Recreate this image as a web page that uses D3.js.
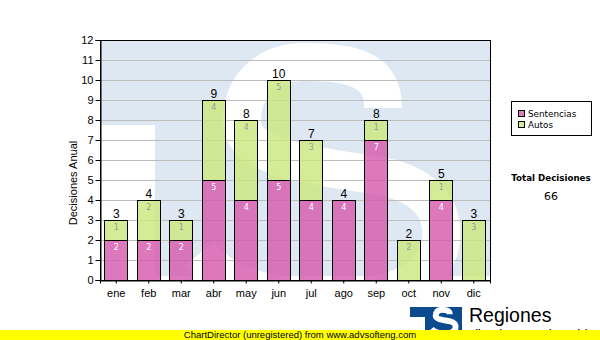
<!DOCTYPE html>
<html><head><meta charset="utf-8">
<script src="https://cdn.jsdelivr.net/npm/d3@7/dist/d3.min.js"></script>
<style>body{margin:0;background:#fff}svg{display:block}</style>
</head><body>
<script>
// Decisiones por mes, apiladas por tipo
const months = ["ene","feb","mar","abr","may","jun","jul","ago","sep","oct","nov","dic"];
const sentencias = [2,2,2,5,4,5,4,4,7,0,4,0];
const autos = [1,2,1,4,4,5,3,0,1,2,1,3];
const seriesNames = ["Sentencias","Autos"];
const yTicks = [0,1,2,3,4,5,6,7,8,9,10,11,12];
const yTitle = "Decisiones Anual";
const totalTitle = "Total Decisiones";
const brandName = "Regiones";
const brandSub = "Tribunal Supremo de Justicia";
const footerText = "ChartDirector (unregistered) from www.advsofteng.com";

const W = 600, H = 340;
const plot = {x0: 100, x1: 490, y0: 40, y1: 280};
const colors = {Sentencias: "#d656ab", Autos: "#cbe77c"};
const segLabelColor = {Sentencias: "#ffffff", Autos: "#9a9a9a"};
const SANS = "'Liberation Sans', Arial, sans-serif";
const VERD = "'DejaVu Sans', Verdana, sans-serif";

const rows = months.map((m, i) => ({mes: m, Sentencias: sentencias[i], Autos: autos[i]}));
const stacked = d3.stack().keys(seriesNames)(rows);
const totals = rows.map(r => r.Sentencias + r.Autos);

const svg = d3.select("body").append("svg").attr("width", W).attr("height", H);

const x = d3.scaleBand().domain(months).range([plot.x0, plot.x1])
  .paddingInner(0.26).paddingOuter(0.13);
const y = d3.scaleLinear().domain([0, 12]).range([plot.y1, plot.y0]);

// S emblem outline (centre line of a thick stroke), drawn in plot space
const sPath = "M383,108 C383,68 350,62 305,62 C262,62 240,92 242,124 C245,160 320,166 380,176 C432,186 446,215 440,246 C432,286 380,299 330,299 C270,299 224,285 199,254";

// background emblem
const defs = svg.append("defs");
defs.append("clipPath").attr("id", "plotClip").append("rect")
  .attr("x", plot.x0).attr("y", plot.y0)
  .attr("width", plot.x1 - plot.x0).attr("height", plot.y1 - plot.y0);
const wm = svg.append("g").attr("clip-path", "url(#plotClip)");
wm.append("rect").attr("x", plot.x0).attr("y", plot.y0)
  .attr("width", plot.x1 - plot.x0).attr("height", plot.y1 - plot.y0).attr("fill", "#dde8f2");
wm.append("rect").attr("x", plot.x0).attr("y", 125)
  .attr("width", 55).attr("height", plot.y1 - 125).attr("fill", "#fff");
wm.append("rect").attr("x", plot.x0).attr("y", plot.y1 - 4)
  .attr("width", plot.x1 - plot.x0).attr("height", 4).attr("fill", "#fff");
wm.append("path").attr("d", sPath).attr("fill", "none")
  .attr("stroke", "#fff").attr("stroke-width", 38).attr("stroke-linecap", "butt");

// gridlines
svg.append("g").selectAll("line").data(yTicks.filter(t => t > 0 && t < 12)).join("line")
  .attr("x1", plot.x0).attr("x2", plot.x1)
  .attr("y1", d => y(d) + 0.5).attr("y2", d => y(d) + 0.5)
  .attr("stroke", "#bdbdbd").attr("stroke-width", 1);

// bars
const barG = svg.append("g");
stacked.forEach(layer => {
  const key = layer.key;
  barG.append("g").selectAll("rect").data(layer.filter(d => d[1] > d[0])).join("rect")
    .attr("x", d => Math.round(x(d.data.mes)) + 0.5)
    .attr("y", d => y(d[1]) + 0.5)
    .attr("width", Math.round(x.bandwidth()) - 1)
    .attr("height", d => y(d[0]) - y(d[1]))
    .attr("fill", colors[key]).attr("fill-opacity", 0.8)
    .attr("stroke", "#000").attr("stroke-width", 1);
});
// segment value labels
stacked.forEach(layer => {
  const key = layer.key;
  barG.append("g").selectAll("text").data(layer.filter(d => d[1] > d[0])).join("text")
    .attr("x", d => x(d.data.mes) + x.bandwidth() / 2)
    .attr("y", d => y(d[1]) + 10)
    .attr("text-anchor", "middle")
    .attr("font-family", VERD).attr("font-size", 8)
    .attr("fill", segLabelColor[key])
    .text(d => d[1] - d[0]);
});
// totals above bars
barG.append("g").selectAll("text").data(rows).join("text")
  .attr("x", d => x(d.mes) + x.bandwidth() / 2)
  .attr("y", (d, i) => y(totals[i]) - 2)
  .attr("text-anchor", "middle")
  .attr("font-family", SANS).attr("font-size", 12).attr("fill", "#000")
  .text((d, i) => totals[i]);

// frame
svg.append("rect").attr("x", plot.x0 + 0.5).attr("y", plot.y0 + 0.5)
  .attr("width", plot.x1 - plot.x0).attr("height", plot.y1 - plot.y0)
  .attr("fill", "none").attr("stroke", "#000").attr("stroke-width", 1);

// axes
const yAxis = svg.append("g").attr("transform", `translate(${plot.x0 + 0.5},0)`)
  .call(d3.axisLeft(y).tickValues(yTicks).tickSize(5).tickPadding(2).tickFormat(d3.format("d")));
const xAxis = svg.append("g").attr("transform", `translate(0,${plot.y1 + 0.5})`)
  .call(d3.axisBottom(x).tickSize(3).tickPadding(4));
[yAxis, xAxis].forEach(a => {
  a.select(".domain").attr("stroke", "#000");
  a.selectAll(".tick line").attr("stroke", "#000");
  a.selectAll("text").attr("font-family", SANS).attr("font-size", 11).attr("fill", "#000");
});
xAxis.selectAll("text").attr("dy", "0.85em");

svg.append("text")
  .attr("transform", "translate(77,183) rotate(-90)")
  .attr("text-anchor", "middle")
  .attr("font-family", SANS).attr("font-size", 11).attr("fill", "#000")
  .text(yTitle);

// legend
const lg = svg.append("g");
lg.append("rect").attr("x", 511.5).attr("y", 101.5).attr("width", 80).attr("height", 34)
  .attr("fill", "#fff").attr("stroke", "#000");
seriesNames.forEach((s, i) => {
  lg.append("rect").attr("x", 518.5).attr("y", 110.5 + i * 11).attr("width", 6).attr("height", 6)
    .attr("fill", colors[s]).attr("fill-opacity", 0.8).attr("stroke", "#000");
  lg.append("text").attr("x", 528).attr("y", 117 + i * 11)
    .attr("font-family", VERD).attr("font-size", 8.8).attr("fill", "#000").text(s);
});

svg.append("text").attr("x", 551).attr("y", 181).attr("text-anchor", "middle")
  .attr("font-family", VERD).attr("font-size", 8.7).attr("font-weight", "bold").attr("fill", "#000")
  .text(totalTitle);
svg.append("text").attr("x", 551).attr("y", 200).attr("text-anchor", "middle")
  .attr("font-family", VERD).attr("font-size", 11).attr("fill", "#000")
  .text(d3.sum(totals));

// brand mark
const logo = svg.append("g");
logo.append("path").attr("d", "M410,307 H462 V340 H425 V317 H410 Z").attr("fill", "#0b4a8e");
logo.append("g").attr("transform", "translate(411.5,303.5) scale(0.1)")
  .append("path").attr("d", sPath).attr("fill", "none")
  .attr("stroke", "#fff").attr("stroke-width", 60).attr("stroke-linecap", "butt");
logo.append("text").attr("x", 469).attr("y", 322)
  .attr("font-family", SANS).attr("font-size", 19.5).attr("fill", "#000").text(brandName);
logo.append("text").attr("x", 467).attr("y", 336)
  .attr("font-family", SANS).attr("font-size", 9).attr("font-weight", "bold").attr("fill", "#000").text(brandSub);

// footer strip
svg.append("rect").attr("x", 0).attr("y", 330).attr("width", W).attr("height", 10).attr("fill", "#ffff00");
svg.append("text").attr("x", 300).attr("y", 338).attr("text-anchor", "middle")
  .attr("font-family", SANS).attr("font-size", 9.5).attr("fill", "#000").text(footerText);
</script>
</body></html>
